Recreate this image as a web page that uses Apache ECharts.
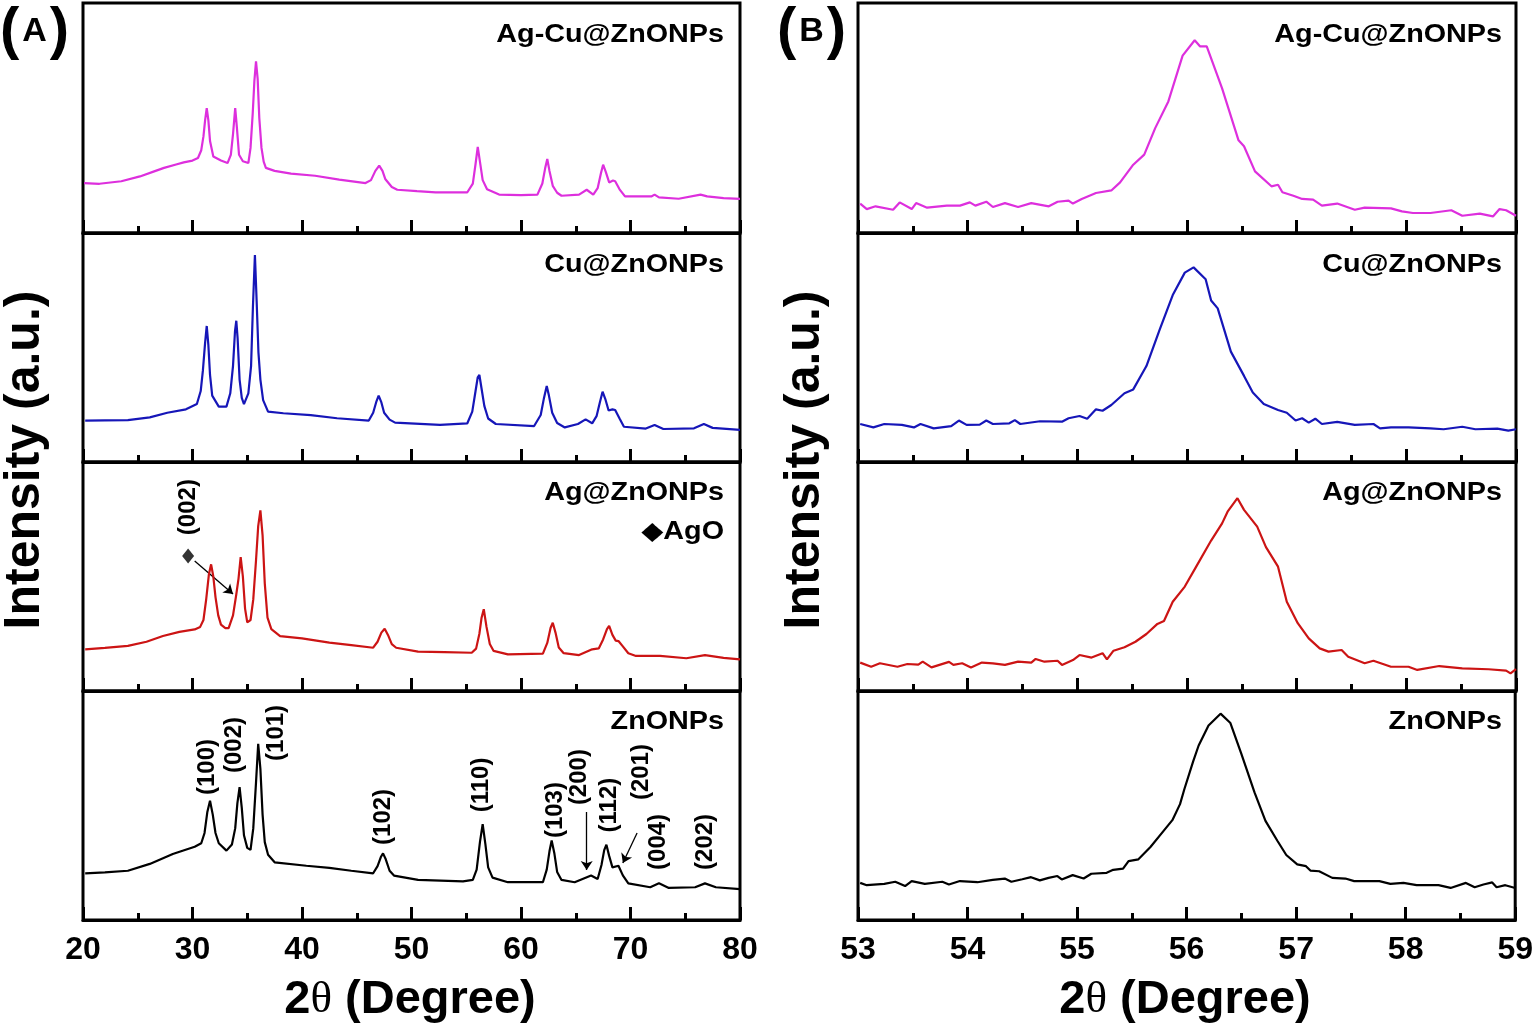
<!DOCTYPE html>
<html>
<head>
<meta charset="utf-8">
<script src="https://cdn.jsdelivr.net/npm/echarts@6/dist/echarts.min.js"></script>
<style>html,body{margin:0;padding:0;background:#fff;}#c{width:1536px;height:1028px;}</style>
</head>
<body>
<div id="c"></div>
<script>
// ---------- DATA ----------
const sampleNames = ['Ag-Cu@ZnONPs', 'Cu@ZnONPs', 'Ag@ZnONPs', 'ZnONPs'];
const rangeA = [20, 80, 10];
const rangeB = [53, 59, 1];

// Panel A (wide scan), intensity in % of sub-panel height
const agcuA = [[20.1,21.7],[21.5,21.4],[23.5,22.5],[25.2,24.6],[26.5,26.8],[27.4,28.3],[28.5,29.8],[29.2,30.7],[30.0,31.5],[30.5,32.6],[30.8,36],[31.0,42],[31.15,49],[31.3,54.3],[31.45,49],[31.6,40],[31.9,33.3],[32.6,31.5],[33.2,30.4],[33.5,34],[33.7,43],[33.9,54.3],[34.05,46],[34.25,34],[34.6,31.2],[35.1,30.4],[35.3,37],[35.5,52],[35.65,66],[35.8,74.6],[35.95,67],[36.1,50],[36.3,37],[36.5,31],[36.7,28.3],[37.5,27],[39.0,25.8],[41.2,24.9],[43.4,23.2],[45.8,21.7],[46.3,23],[46.7,27],[47.05,29.3],[47.35,27],[47.6,23.5],[48.2,20],[48.7,18.8],[50.5,18.2],[52.2,17.7],[55.1,17.7],[55.6,21.5],[55.85,30],[56.05,37.4],[56.25,31],[56.5,23],[56.9,19],[58.0,16.7],[60,16.5],[61.5,16.7],[61.95,21.5],[62.2,28],[62.4,32.2],[62.6,27],[62.9,20.5],[63.3,17.5],[63.7,16.2],[65.3,16.7],[66.0,18.8],[66.6,16.7],[67.0,19.5],[67.3,26],[67.5,29.7],[67.75,26.5],[68.05,22],[68.4,22.8],[68.6,22.5],[69.0,19],[69.5,15.9],[71.9,15.9],[72.2,16.7],[72.6,15.5],[74.4,14.9],[76.4,16.7],[77.0,15.9],[78.5,15.2],[80,14.8]];
const cuA = [[20.2,18.1],[22,18.2],[24.1,18.3],[26.1,19.5],[27.7,21.5],[29.4,23.0],[30.4,25.3],[30.75,31],[30.95,40],[31.15,52],[31.3,59.4],[31.45,51],[31.6,38],[31.8,29],[32.4,24.2],[33.1,24.2],[33.45,30],[33.7,42],[33.88,57],[34.0,61.7],[34.12,54],[34.3,36],[34.5,28],[34.7,25.3],[35.1,30],[35.35,42],[35.52,68],[35.7,90.4],[35.86,70],[36.02,48],[36.2,36],[36.45,27],[36.9,22.0],[38.3,21.3],[40.8,20.5],[43.2,19.1],[46.1,18.1],[46.5,21.5],[46.8,26.5],[47.0,29.0],[47.25,26],[47.5,21.5],[48.0,18.5],[48.5,17.2],[52.6,16.2],[55.1,16.9],[55.55,22],[55.85,31],[56.05,37],[56.2,38.0],[56.4,32],[56.65,24.5],[57.0,19],[57.7,16.6],[61.2,15.7],[61.8,20.5],[62.1,28],[62.35,33.2],[62.55,29],[62.85,21.5],[63.3,17],[64.0,15.1],[65.2,16.6],[65.9,18.6],[66.5,16.9],[66.9,20],[67.2,26],[67.45,30.7],[67.7,27.5],[68.0,22.5],[68.35,23],[68.6,22.7],[69.0,19],[69.4,15.4],[71.4,14.6],[72.2,16.2],[73.0,14.4],[75.8,14.7],[76.7,16.6],[77.5,14.9],[80,14.0]];
const agA = [[20.2,18.2],[22.0,18.8],[24.1,19.7],[25.8,21.5],[27.3,24.0],[28.8,25.8],[30.2,26.9],[30.7,28],[31.0,31],[31.25,40],[31.5,51],[31.7,55.3],[31.9,50],[32.1,41],[32.35,33],[32.6,29],[33.0,27.5],[33.3,27.5],[33.7,33],[34.0,42.2],[34.2,49],[34.4,58.5],[34.6,50],[34.8,36],[35.0,30],[35.3,31],[35.55,40],[35.8,57],[36.0,72],[36.2,78.9],[36.4,68],[36.6,47],[36.85,32],[37.2,27],[38.0,24],[40,23],[42.5,21.1],[44.5,20],[46.5,18.9],[46.9,21.5],[47.25,25.5],[47.55,27.2],[47.85,24.5],[48.2,20.5],[48.6,18.9],[50.6,17.2],[53,17],[55.5,16.7],[55.9,18.5],[56.2,25],[56.4,32],[56.6,35.7],[56.85,28],[57.15,20.5],[57.5,17.5],[58.8,16.0],[62.0,16.3],[62.4,21],[62.7,27.5],[62.9,29.8],[63.15,25.5],[63.45,19],[63.9,16.5],[65.3,15.7],[66.5,18.2],[67.1,18.6],[67.5,22.5],[67.85,27],[68.05,28.4],[68.35,24.5],[68.65,22],[68.9,21.8],[69.3,19.5],[69.8,16.5],[70.5,15.3],[72.7,15.3],[75.1,14.3],[76.8,15.7],[78.5,14.5],[80,13.8]];
const znoA = [[20.2,20.4],[22.0,20.8],[24.1,21.5],[26.1,24.5],[28.2,28.8],[30.2,32.0],[30.8,33.5],[31.1,38],[31.35,47],[31.6,52.1],[31.85,46],[32.1,38],[32.4,33.5],[33.1,30.3],[33.6,33],[33.9,40],[34.1,51],[34.3,58.0],[34.5,49],[34.7,37],[35.0,31.5],[35.3,30.6],[35.55,40],[35.8,60],[36.0,76.9],[36.2,66],[36.4,46],[36.6,34],[36.9,28.5],[37.5,25.2],[40.4,23.7],[42.5,22.8],[44.5,21.5],[46.5,20.4],[46.9,23.5],[47.2,27.5],[47.4,29.1],[47.65,26.5],[48.0,21.5],[48.4,19.4],[50.6,17.5],[54.7,16.9],[55.6,17.5],[55.95,22],[56.25,34],[56.5,41.9],[56.75,33],[57.0,23],[57.4,18.5],[58.8,16.5],[62.0,16.5],[62.35,22],[62.6,30],[62.8,34.7],[63.05,29],[63.3,21],[63.7,17.5],[64.9,16.5],[66.4,19.4],[67.0,17.9],[67.35,24],[67.6,30.5],[67.8,32.9],[68.05,28],[68.35,23],[68.5,22.3],[68.9,23.7],[69.3,19.5],[69.8,16.0],[71.8,14.3],[72.6,16.0],[73.5,14.0],[75.9,14.3],[76.8,16.0],[77.8,14.3],[80,13.5]];

// Panel B (zoom on the (110) reflection)
const agcuB = [[53.02,12.8],[53.08,10.4],[53.16,11.6],[53.32,10.1],[53.38,13.3],[53.49,10.4],[53.53,13.0],[53.63,11.0],[53.81,11.9],[53.93,11.9],[54.02,13.3],[54.07,11.9],[54.17,13.6],[54.23,11.3],[54.34,13.0],[54.46,11.3],[54.58,13.0],[54.74,11.6],[54.82,13.6],[54.92,14.1],[54.96,12.8],[55.04,14.8],[55.17,17.4],[55.31,18.5],[55.39,22.0],[55.51,29.7],[55.61,34.1],[55.71,45.6],[55.83,57.2],[55.96,77.1],[56.07,83.8],[56.12,81.1],[56.18,81.1],[56.32,62.9],[56.47,40.3],[56.52,37.7],[56.62,26.8],[56.77,20.3],[56.83,21.0],[56.87,17.7],[56.97,16.2],[57.05,14.8],[57.15,14.5],[57.23,11.9],[57.37,12.8],[57.53,10.1],[57.62,11.0],[57.86,10.7],[57.96,9.4],[58.06,8.7],[58.22,8.7],[58.41,9.9],[58.51,7.5],[58.67,8.4],[58.79,7.2],[58.85,10.4],[58.91,9.9],[59.0,7.5]];
const cuB = [[53.02,16.6],[53.14,15.1],[53.24,16.6],[53.40,16.2],[53.51,15.1],[53.57,16.6],[53.69,14.7],[53.85,15.7],[53.92,18.1],[53.99,16.2],[54.11,16.3],[54.17,18.1],[54.23,16.6],[54.38,16.9],[54.43,18.3],[54.48,16.6],[54.66,17.8],[54.86,17.6],[54.92,19.1],[55.02,20.1],[55.09,18.9],[55.17,23.0],[55.23,22.4],[55.31,24.9],[55.43,30.0],[55.51,31.7],[55.63,41.9],[55.75,57.7],[55.87,72.9],[55.98,82.7],[56.06,85.0],[56.17,79.8],[56.22,70.5],[56.28,67.1],[56.40,48.2],[56.52,37.6],[56.60,30.3],[56.70,25.3],[56.83,22.7],[56.91,21.5],[56.99,18.1],[57.05,19.1],[57.11,17.2],[57.17,18.9],[57.23,16.6],[57.37,17.5],[57.53,16.2],[57.70,16.6],[57.76,14.7],[57.86,15.1],[58.02,15.1],[58.22,14.7],[58.34,14.3],[58.51,15.4],[58.63,14.3],[58.83,14.6],[58.93,13.7],[59.0,14.3]];
const agB = [[53.02,12.4],[53.12,10.6],[53.20,12.1],[53.36,10.6],[53.45,11.8],[53.55,11.5],[53.59,12.8],[53.67,10.3],[53.83,12.7],[53.87,11.4],[53.95,12.1],[54.03,10.3],[54.13,12.4],[54.23,12.1],[54.34,11.4],[54.46,12.8],[54.58,12.4],[54.62,14.0],[54.70,12.8],[54.82,13.2],[54.86,11.4],[54.96,13.5],[55.02,15.7],[55.13,14.6],[55.23,16.5],[55.27,13.8],[55.33,17.6],[55.43,19.1],[55.53,21.5],[55.63,24.9],[55.73,29.3],[55.79,30.6],[55.87,39.0],[55.98,45.6],[56.08,54.0],[56.22,65.7],[56.32,73.2],[56.37,78.3],[56.46,84.2],[56.52,79.1],[56.64,71.8],[56.72,62.8],[56.83,54.3],[56.91,39.0],[57.01,29.6],[57.11,23.0],[57.21,18.6],[57.29,17.2],[57.41,17.9],[57.47,15.0],[57.62,12.1],[57.70,13.2],[57.86,10.6],[58.02,10.6],[58.10,9.2],[58.30,10.9],[58.51,9.9],[58.75,9.5],[58.91,8.9],[58.95,7.7],[59.0,9.5]];
const znoB = [[53.02,16.2],[53.08,15.2],[53.24,15.8],[53.34,16.7],[53.43,14.8],[53.49,17.0],[53.61,15.8],[53.77,16.7],[53.83,15.5],[53.93,17.0],[54.09,16.5],[54.23,17.5],[54.34,18.1],[54.40,16.7],[54.50,17.8],[54.58,18.7],[54.66,17.3],[54.74,18.4],[54.82,19.2],[54.86,17.7],[54.96,19.6],[55.06,18.1],[55.13,20.2],[55.27,20.6],[55.33,21.9],[55.42,22.4],[55.47,25.7],[55.56,26.5],[55.67,31.9],[55.79,38.9],[55.87,43.6],[55.94,50.6],[55.98,57.2],[56.06,69.3],[56.11,76.2],[56.20,84.9],[56.31,90.1],[56.40,86.0],[56.50,72.5],[56.62,55.7],[56.72,43.3],[56.83,34.5],[56.91,28.4],[57.01,24.3],[57.09,23.5],[57.13,21.6],[57.21,21.3],[57.33,18.4],[57.45,18.1],[57.53,17.0],[57.66,17.0],[57.76,17.0],[57.86,15.8],[57.98,16.2],[58.10,15.2],[58.30,15.2],[58.41,14.0],[58.55,16.2],[58.63,14.3],[58.71,15.5],[58.79,16.4],[58.83,14.3],[58.91,15.2],[59.0,14.0]];

// Miller-index annotations on the ZnONPs pattern: [2theta, height, text]
const hklLabels = [[31.4,66.8,'(100)'],[33.8,76.4,'(002)'],[37.7,81.7,'(101)'],[47.4,45.0,'(102)'],[56.4,59.0,'(110)'],[63.1,48.0,'(103)'],[65.35,62.4,'(200)'],[68.05,50.2,'(112)'],[71.0,64.6,'(201)'],[72.5,34.1,'(004)'],[76.85,34.1,'(202)']];
const hklArrows = [[[66.0,47.2],[66.0,21.8]],[[70.6,38.0],[69.3,24.9]]];
// AgO marker on Ag@ZnONPs pattern
const agoLabel = [29.6,80.3,'(002)'];
const agoDiamond = [29.6,59];
const agoArrow = [[30.2,56.8],[33.7,42.4]];

const colors = ['#dd2fdd', '#1616b8', '#cc1414', '#000000'];
const seriesA = [agcuA, cuA, agA, znoA];
const seriesB = [agcuB, cuB, agB, znoB];

// ---------- CHART ----------
const chart = echarts.init(document.getElementById('c'), null, {renderer: 'canvas'});
const FONT = '"Liberation Sans", Arial, "DejaVu Sans", sans-serif';
const tops = [3, 233, 462, 691];
const heights = [230, 229, 229, 229];
const grids = [], xAxes = [], yAxes = [], series = [];

function addPanel(left, width, range, dataSets, offset) {
  for (let i = 0; i < 4; i++) {
    const gi = offset + i;
    grids.push({left: left, width: width, top: tops[i], height: heights[i], show: true,
      borderColor: '#000', borderWidth: 3, backgroundColor: 'transparent', containLabel: false});
    xAxes.push({type: 'value', gridIndex: gi, min: range[0], max: range[1], interval: range[2],
      axisLine: {show: true, onZero: false, lineStyle: {color: '#000', width: 3}},
      axisTick: {show: true, inside: true, length: 13, lineStyle: {color: '#000', width: 3}},
      minorTick: {show: true, splitNumber: 2, length: 7, lineStyle: {color: '#000', width: 3}},
      splitLine: {show: false}, minorSplitLine: {show: false},
      axisLabel: {show: i === 3, color: '#000', fontSize: 32, fontWeight: 'bold', fontFamily: FONT, margin: 14,
        showMinLabel: true, showMaxLabel: true}});
    yAxes.push({type: 'value', gridIndex: gi, min: 0, max: 100, show: false});
    series.push({type: 'line', xAxisIndex: gi, yAxisIndex: gi, data: dataSets[i], showSymbol: false,
      symbol: 'none', lineStyle: {color: colors[i], width: 2.2}, itemStyle: {color: colors[i]},
      silent: true, animation: false, z: 3});
  }
}
addPanel(83, 657, rangeA, seriesA, 0);
addPanel(858, 658, rangeB, seriesB, 4);

const annLabel = {show: true, position: 'inside', formatter: '{b}', rotate: 90, color: '#000',
  fontSize: 24, fontWeight: 'bold', fontFamily: FONT, textBorderWidth: 0, textShadowBlur: 0, opacity: 1};

// hkl labels on ZnONPs panel (grid 3)
series.push({type: 'scatter', xAxisIndex: 3, yAxisIndex: 3, symbolSize: 0, animation: false, silent: true,
  itemStyle: {color: '#000'},
  data: hklLabels.map(d => ({value: [d[0], d[1]], name: d[2]})), label: annLabel});
series.push({type: 'lines', coordinateSystem: 'cartesian2d', xAxisIndex: 3, yAxisIndex: 3, animation: false, silent: true,
  symbol: ['none', 'arrow'], symbolSize: 9,
  lineStyle: {color: '#000', width: 1.3, opacity: 1},
  data: hklArrows.map(c => ({coords: c}))});

// AgO marker on Ag@ZnONPs panel (grid 2)
series.push({type: 'scatter', xAxisIndex: 2, yAxisIndex: 2, symbolSize: 0, animation: false, silent: true,
  itemStyle: {color: '#000'},
  data: [{value: [agoLabel[0], agoLabel[1]], name: agoLabel[2]}], label: annLabel});
series.push({type: 'scatter', xAxisIndex: 2, yAxisIndex: 2, symbol: 'diamond', symbolSize: [12, 15],
  itemStyle: {color: '#000'}, animation: false, silent: true, data: [agoDiamond]});
series.push({type: 'lines', coordinateSystem: 'cartesian2d', xAxisIndex: 2, yAxisIndex: 2, animation: false, silent: true,
  symbol: ['none', 'arrow'], symbolSize: 9,
  lineStyle: {color: '#000', width: 1.3, opacity: 1},
  data: [{coords: agoArrow}]});

// texts
const labelY = [35, 265, 493, 722];
const graphics = [];
function txt(x, y, text, size, align, extra) {
  return Object.assign({type: 'text', x: x, y: y, silent: true, style: {text: text, fill: '#000',
    font: 'bold ' + size + 'px ' + FONT, align: align, textAlign: align,
    verticalAlign: 'middle', textVerticalAlign: 'middle'}}, extra || {});
}
for (let i = 0; i < 4; i++) {
  graphics.push(txt(724, labelY[i], sampleNames[i], 25, 'right', {scaleX: 1.15}));
  graphics.push(txt(1502, labelY[i], sampleNames[i], 25, 'right', {scaleX: 1.15}));
}
graphics.push(txt(724, 532, '\u25C6AgO', 25, 'right', {scaleX: 1.15}));
// axis titles
[[25, 460], [805, 460]].forEach(p => graphics.push(txt(p[0], p[1], 'Intensity (a.u.)', 50, 'center', {rotation: Math.PI / 2})));
function degTitle(x) {
  return {type: 'text', x: x, y: 1000, silent: true, style: {
    text: '{a|2}{b|\u03B8}{a| (Degree)}', align: 'center', textAlign: 'center',
    verticalAlign: 'middle', textVerticalAlign: 'middle', fill: '#000',
    rich: {a: {fontSize: 47, fontWeight: 'bold', fontFamily: FONT, verticalAlign: 'middle'},
           b: {fontSize: 45, fontWeight: 'normal', fontFamily: '"Liberation Serif", "DejaVu Serif", serif', verticalAlign: 'middle'}}}};
}
graphics.push(degTitle(410), degTitle(1185));
function panelTag(x, letter) {
  return {type: 'text', x: x, y: 32, silent: true, style: {
    text: '{p|(}{l|' + letter + '}{p|)}', align: 'left', textAlign: 'left',
    verticalAlign: 'middle', textVerticalAlign: 'middle', fill: '#000',
    rich: {p: {fontSize: 58, fontWeight: 'bold', fontFamily: FONT, verticalAlign: 'middle'},
           l: {fontSize: 34, fontWeight: 'bold', fontFamily: FONT, verticalAlign: 'middle', padding: [0, 3, 0, 3]}}}};
}
graphics.push(panelTag(0, 'A'), panelTag(777, 'B'));

chart.setOption({
  backgroundColor: '#fff',
  animation: false,
  grid: grids, xAxis: xAxes, yAxis: yAxes, series: series,
  graphic: {elements: graphics}
});
</script>
</body>
</html>
